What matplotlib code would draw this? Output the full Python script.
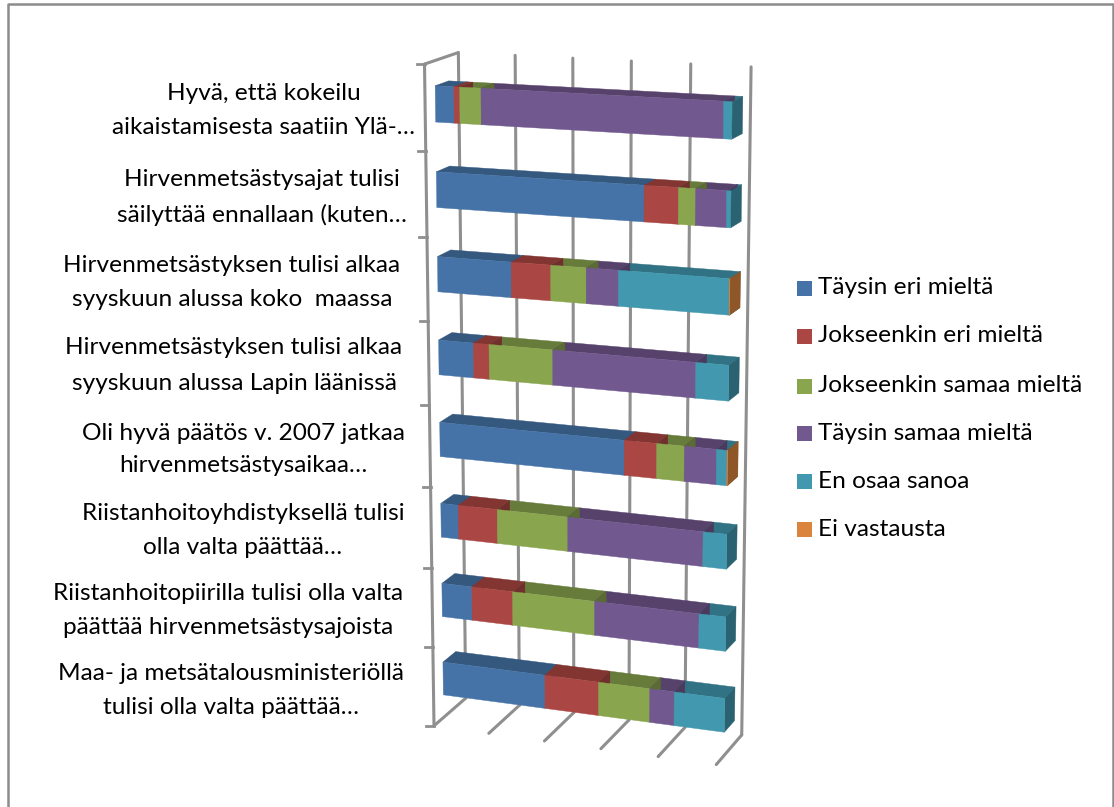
#!/usr/bin/env python3
# -*- coding: utf-8 -*-
# stacked 3D bar look (excel style), drawn with fill on a pixel axes

import numpy as np
import matplotlib
matplotlib.use('Agg')
import matplotlib.pyplot as plt

plt.rcParams['font.family'] = ['Lato', 'DejaVu Sans']

series_names = ['Täysin eri mieltä', 'Jokseenkin eri mieltä', 'Jokseenkin samaa mieltä',
                'Täysin samaa mieltä', 'En osaa sanoa', 'Ei vastausta']

# one list per series, top bar first (percent)
taysin_eri = [6.5, 71.3, 25.9, 12.4, 64.9, 6.3, 10.9, 37.0]
jokseenkin_eri = [2.0, 11.4, 13.7, 5.5, 11.1, 14.0, 14.7, 19.1]
jokseenkin_samaa = [7.4, 5.7, 12.2, 22.3, 9.4, 25.0, 29.1, 18.0]
taysin_samaa = [81.4, 10.2, 10.9, 48.8, 10.8, 46.7, 36.2, 8.5]
en_osaa = [2.7, 1.4, 37.2, 11.0, 3.6, 8.0, 9.1, 17.4]
ei_vastausta = [0.0, 0.0, 0.1, 0.0, 0.2, 0.0, 0.0, 0.0]

category_lines = [
    ['Hyvä, että kokeilu', 'aikaistamisesta saatiin Ylä-…'],
    ['Hirvenmetsästysajat tulisi', 'säilyttää ennallaan (kuten…'],
    ['Hirvenmetsästyksen tulisi alkaa', 'syyskuun alussa koko  maassa'],
    ['Hirvenmetsästyksen tulisi alkaa', 'syyskuun alussa Lapin läänissä'],
    ['Oli hyvä päätös v. 2007 jatkaa', 'hirvenmetsästysaikaa…'],
    ['Riistanhoitoyhdistyksellä tulisi', 'olla valta päättää…'],
    ['Riistanhoitopiirilla tulisi olla valta', 'päättää hirvenmetsästysajoista'],
    ['Maa- ja metsätalousministeriöllä', 'tulisi olla valta päättää…'],
]
value_ticks = [0, 20, 40, 60, 80, 100]

# layout, pixels
W, H = 1114, 807
label_x = [264, 262, 232, 234, 243, 243, 228, 231]
label_y = [(94, 127), (180, 215), (266, 299), (348, 383), (433, 465), (513, 547), (593, 627), (673, 707)]
legend_y = [288, 336, 386, 433, 481, 529]

front_colors = ['#4573A7', '#AA4643', '#89A54E', '#71588F', '#4198AF', '#DB843D']
top_colors = ['#35587F', '#833532', '#677C3B', '#57426C', '#317385', '#A6642E']
side_colors = ['#2E4D70', '#712E2C', '#5A6C33', '#4B3A5E', '#2A6272', '#8F5728']
grid_color = '#8F8F8F'

# camera: (value 0-1, category 0-1, depth 0-1) -> pixel, fitted to the axis box
calib_3d = [(0, 0, 0), (0, 1, 0), (0, 0, 1), (0, 1, 1), (1, 0, 1), (1, 1, 1), (1, 1, 0),
            (.2, 1, 0), (.4, 1, 0), (.6, 1, 0), (.8, 1, 0),
            (.2, 0, 1), (.4, 0, 1), (.6, 0, 1), (.8, 0, 1)]
calib_px = [(424, 64), (435, 726), (459, 53), (465, 698), (751, 67), (742, 735), (716, 764),
            (488, 733), (545, 741), (601, 749), (658, 757),
            (515, 55), (573, 58), (631, 61), (691, 64)]


def fit_camera(p3, p2):
    A, b = [], []
    for (x, y, z), (u, v) in zip(p3, p2):
        A.append([x, y, z, 1, 0, 0, 0, 0, -u * x, -u * y, -u * z])
        b.append(u)
        A.append([0, 0, 0, 0, x, y, z, 1, -v * x, -v * y, -v * z])
        b.append(v)
    m = np.linalg.lstsq(np.array(A, float), np.array(b, float), rcond=None)[0]
    return np.append(m, 1.0).reshape(3, 4)


cam = fit_camera(calib_3d, calib_px)


def proj(val, cat, depth):
    q = cam @ np.array([val, cat, depth, 1.0])
    return q[0] / q[2], q[1] / q[2]


def face(ax, corners, color, z):
    pts = [proj(*c) for c in corners]
    ax.fill([p[0] for p in pts], [p[1] for p in pts], color=color, lw=0.3, zorder=z)


def line3(ax, a, b, z=1, lw=2.2):
    pa, pb = proj(*a), proj(*b)
    ax.plot([pa[0], pb[0]], [pa[1], pb[1]], color=grid_color, lw=lw,
            solid_capstyle='round', zorder=z)


fig = plt.figure(figsize=(W / 100, H / 100), dpi=100)
ax = fig.add_axes([0, 0, 1, 1])
ax.set_xlim(0, W)
ax.set_ylim(H, 0)
ax.axis('off')

# ramme (no line at the bottom)
ax.plot([8, 8, 1113, 1113], [H, 4, 4, H], color='#8C8C8C', lw=1.8, zorder=0)

# walls and grid
n_cat = len(category_lines)
for t in value_ticks:
    v = t / 100
    line3(ax, (v, 0, 1), (v, 1, 1))
    line3(ax, (v, 1, 1), (v, 1, 0))
line3(ax, (0, 0, 0), (0, 1, 0))
line3(ax, (0, 0, 0), (0, 0, 1))
for i in range(n_cat + 1):
    x, y = proj(0, i / n_cat, 0)
    ax.plot([x - 8, x], [y, y], color=grid_color, lw=2.0, zorder=1)

# bars
series = [taysin_eri, jokseenkin_eri, jokseenkin_samaa, taysin_samaa, en_osaa, ei_vastausta]
D0, D1 = 0.30, 0.70
BAR_H = 0.42
for i in range(n_cat):
    c0 = (i + 0.5 - BAR_H / 2) / n_cat
    c1 = (i + 0.5 + BAR_H / 2) / n_cat
    left = 0.0
    for s, vals in enumerate(series):
        val = vals[i] / 100
        if val <= 0:
            continue
        right = left + val
        z = 3 + i * 0.01
        face(ax, [(left, c0, D1), (right, c0, D1), (right, c0, D0), (left, c0, D0)], top_colors[s], z)
        face(ax, [(right, c0, D0), (right, c0, D1), (right, c1, D1), (right, c1, D0)], side_colors[s], z + s * 0.001)
        face(ax, [(left, c0, D0), (right, c0, D0), (right, c1, D0), (left, c1, D0)], front_colors[s], z + 0.005)
        left = right

# category labels, one text per line
for lines, xc, ys in zip(category_lines, label_x, label_y):
    for txt, yc in zip(lines, ys):
        ax.text(xc, yc, txt, fontsize=17.6, ha='center', va='center', color='black', zorder=5)

# legend
for name, col, yc in zip(series_names, front_colors, legend_y):
    ax.fill([797, 812, 812, 797], [yc - 7.5, yc - 7.5, yc + 7.5, yc + 7.5], color=col, lw=0, zorder=5)
    ax.text(818, yc, name, fontsize=17.6, ha='left', va='center', color='black', zorder=5)

fig.savefig('out.png', dpi=100)
